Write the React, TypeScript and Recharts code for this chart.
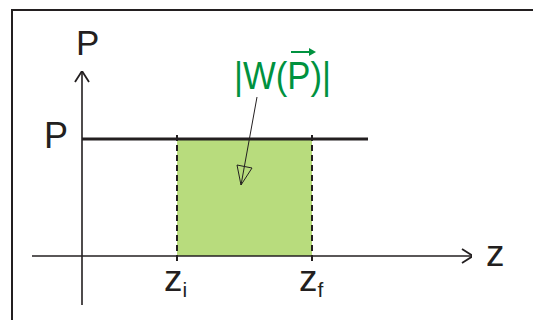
import React from "react";
import { ComposedChart, Line, XAxis, YAxis, ReferenceArea, ReferenceLine, ReferenceDot } from "recharts";

// values (1 unit ~ 50px)
const zi = 1.9;
const zf = 4.6;
const pLevel = 2.34;
const pLineEnd = 5.72;
const zAxisRange = [-1, 7.82];
const pAxisRange = [-0.98, 3.7];
const zArrow = [{ x: 7.6, y: 0.14 }, { x: 7.82, y: 0 }, { x: 7.6, y: -0.14 }];
const pArrow = [{ x: -0.14, y: 3.48 }, { x: 0, y: 3.7 }, { x: 0.14, y: 3.48 }];
const pointerLine = [{ x: 3.5, y: 3.18 }, { x: 3.18, y: 1.42 }];
const pointerHead = [{ x: 3.1, y: 1.82 }, { x: 3.4, y: 1.76 }, { x: 3.18, y: 1.42 }, { x: 3.1, y: 1.82 }];
const tickNames = [
  { at: zi, main: "z", sub: "i" },
  { at: zf, main: "z", sub: "f" },
];

const ink = "#231f20";
const green = "#00923f";
const fill = "#b8dc7d";
const font = "'Liberation Sans', Arial, sans-serif";

const zAxisLine = zAxisRange.map((x) => ({ x, y: 0 }));
const pAxisLine = pAxisRange.map((y) => ({ x: 0, y }));
const pLine = [{ x: 0, y: pLevel }, { x: pLineEnd, y: pLevel }];

const textAt = (dx: number, dy: number, render: (x: number, y: number) => React.ReactNode) =>
  (p: any) => <g>{render(p.cx + dx, p.cy + dy)}</g>;

export default function App() {
  return (
    <div style={{ position: "absolute", left: 0, top: 0, width: 533, height: 320, background: "#fff" }}>
      <div
        style={{
          position: "absolute",
          left: 11,
          top: 9,
          right: 0,
          bottom: 0,
          borderTop: `2px solid ${ink}`,
          borderLeft: `2px solid ${ink}`,
        }}
      />
      <div style={{ position: "absolute", left: 0, top: 0 }}>
        <ComposedChart width={533} height={320} margin={{ top: 71, right: 61, bottom: 14, left: 32 }}>
          <XAxis type="number" dataKey="x" domain={[-1, 7.8]} hide allowDataOverflow />
          <YAxis type="number" dataKey="y" domain={[-1, 3.7]} hide allowDataOverflow />
          <ReferenceArea x1={zi} x2={zf} y1={0} y2={pLevel} fill={fill} fillOpacity={1} stroke="none" ifOverflow="visible" />
          <ReferenceLine
            segment={[{ x: zi, y: -0.1 }, { x: zi, y: pLevel + 0.16 }]}
            stroke={ink}
            strokeWidth={2}
            strokeDasharray="6 4"
            ifOverflow="visible"
          />
          <ReferenceLine
            segment={[{ x: zf, y: -0.1 }, { x: zf, y: pLevel + 0.16 }]}
            stroke={ink}
            strokeWidth={2}
            strokeDasharray="6 4"
            ifOverflow="visible"
          />
          <Line data={zAxisLine} dataKey="y" stroke={ink} strokeWidth={1.6} dot={false} isAnimationActive={false} />
          <Line data={pAxisLine} dataKey="y" stroke={ink} strokeWidth={1.6} dot={false} isAnimationActive={false} />
          <Line data={zArrow} dataKey="y" stroke={ink} strokeWidth={1.8} dot={false} isAnimationActive={false} />
          <Line data={pArrow} dataKey="y" stroke={ink} strokeWidth={1.8} dot={false} isAnimationActive={false} />
          <Line data={pLine} dataKey="y" stroke={ink} strokeWidth={2.8} dot={false} isAnimationActive={false} />
          <Line data={pointerLine} dataKey="y" stroke={ink} strokeWidth={1} dot={false} isAnimationActive={false} />
          <Line data={pointerHead} dataKey="y" stroke={ink} strokeWidth={1} dot={false} isAnimationActive={false} />

          <ReferenceDot
            x={0}
            y={3.7}
            r={0}
            ifOverflow="visible"
            shape={textAt(-6, -16, (x, y) => (
              <text x={x} y={y} fontFamily={font} fontSize={35} fill={ink}>P</text>
            ))}
          />
          <ReferenceDot
            x={0}
            y={pLevel}
            r={0}
            ifOverflow="visible"
            shape={textAt(-38, 9, (x, y) => (
              <text x={x} y={y} fontFamily={font} fontSize={36} fill={ink}>P</text>
            ))}
          />
          <ReferenceDot
            x={7.82}
            y={0}
            r={0}
            ifOverflow="visible"
            shape={textAt(13, 10, (x, y) => (
              <text x={x} y={y} fontFamily={font} fontSize={37} fill={ink}>z</text>
            ))}
          />
          {tickNames.map((t) => (
            <ReferenceDot
              key={t.sub}
              x={t.at}
              y={0}
              r={0}
              ifOverflow="visible"
              shape={textAt(-13, 35, (x, y) => (
                <text x={x} y={y} fontFamily={font} fontSize={37} fill={ink}>
                  {t.main}
                  <tspan fontSize={21} dy={6}>{t.sub}</tspan>
                </text>
              ))}
            />
          ))}
          <ReferenceDot
            x={3.5}
            y={3.18}
            r={0}
            ifOverflow="visible"
            shape={textAt(-23, -8, (x, y) => (
              <g>
                <text x={x} y={y} fontFamily={font} fontSize={38} fill={green} textLength={97} lengthAdjust="spacingAndGlyphs">
                  |W(P)|
                </text>
                <path d={`M ${x + 57} ${y - 37} L ${x + 79} ${y - 37}`} stroke={green} strokeWidth={2} />
                <path d={`M ${x + 75} ${y - 41} L ${x + 82} ${y - 37} L ${x + 75} ${y - 33} Z`} fill={green} />
              </g>
            ))}
          />
        </ComposedChart>
      </div>
    </div>
  );
}
